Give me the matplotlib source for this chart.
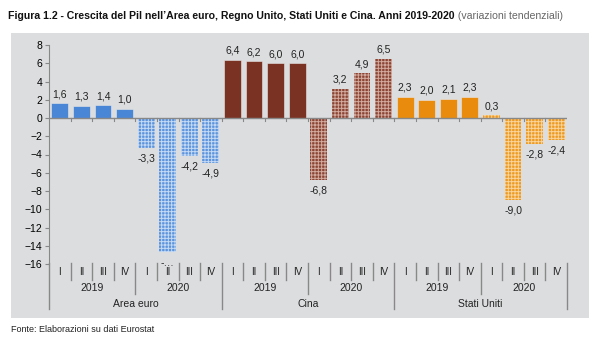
import matplotlib.pyplot as plt
import matplotlib.transforms as mtransforms
from matplotlib.patches import Rectangle
from matplotlib.lines import Line2D

plt.rcParams['font.family'] = ['Liberation Sans Narrow', 'Liberation Sans', 'DejaVu Sans']
plt.rcParams['hatch.linewidth'] = 0.7

# dati
paesi = ['Area euro', 'Cina', 'Stati Uniti']
anni = ['2019', '2020']
trimestri = ['I', 'II', 'III', 'IV']
area_euro = [1.6, 1.3, 1.4, 1.0, -3.3, -14.7, -4.2, -4.9]
cina = [6.4, 6.2, 6.0, 6.0, -6.8, 3.2, 4.9, 6.5]
stati_uniti = [2.3, 2.0, 2.1, 2.3, 0.3, -9.0, -2.8, -2.4]
etichette_euro = ['1,6', '1,3', '1,4', '1,0', '-3,3', '-…', '-4,2', '-4,9']
colori = ['#4a86d6', '#7a3323', '#e98c0e']
colori_2020 = ['#5b93dc', '#8a4434', '#ee9a22']
colori_trama = ['#c4d9f4', '#d2aa9e', '#f9d49c']

serie = [area_euro, cina, stati_uniti]

fig = plt.figure(figsize=(6, 3.42), dpi=100)
fig.patches.append(Rectangle((11 / 600, 1 - 318 / 342), 578 / 600, 285 / 342,
                             transform=fig.transFigure, facecolor='#dcdddf',
                             edgecolor='none', zorder=-5))
ax = fig.add_axes([49 / 600, 1 - 264 / 342, 518 / 600, 219 / 342])
ax.set_facecolor('none')
ax.set_zorder(2)

pos = 0
for i, valori in enumerate(serie):
    for j, v in enumerate(valori):
        if j < 4:
            ax.bar(pos + 0.5, v, width=0.78, color=colori[i], edgecolor='#e8e8e8',
                   linewidth=0.4, zorder=2)
        else:
            ax.bar(pos + 0.5, v, width=0.78, color=colori_2020[i], edgecolor=colori_trama[i],
                   linewidth=0, hatch='+++++', zorder=2)
        if i == 0:
            testo = etichette_euro[j]
        else:
            testo = f'{v:.1f}'.replace('.', ',')
        if v >= 0:
            ax.annotate(testo, (pos + 0.5, v), xytext=(0, 3), textcoords='offset points',
                        ha='center', va='bottom', fontsize=7.5, color='#222222')
        else:
            ax.annotate(testo, (pos + 0.5, v), xytext=(0, -4), textcoords='offset points',
                        ha='center', va='top', fontsize=7.5, color='#222222')
        pos += 1

ax.set_xlim(0, 24)
ax.set_ylim(-16, 8)
ax.set_yticks(range(-16, 9, 2))
ax.tick_params(axis='y', labelsize=7.5, length=3, color='#888888', pad=2)
ax.set_xticks([])
for s in ['top', 'right', 'bottom']:
    ax.spines[s].set_visible(False)
ax.spines['left'].set_color('#888888')
ax.axhline(0, color='#888888', linewidth=1, zorder=3)
for k in range(1, 24):
    ax.plot([k, k], [0, -0.35], color='#888888', linewidth=0.8, zorder=3)

# etichette asse x
tr = mtransforms.blended_transform_factory(ax.transData, fig.transFigure)
y_px = lambda p: 1 - p / 342
for k in range(24):
    ax.text(k + 0.5, y_px(272), trimestri[k % 4], transform=tr, ha='center',
            va='center', fontsize=7, color='#222222')
for k in range(6):
    ax.text(k * 4 + 2, y_px(288), anni[k % 2], transform=tr, ha='center',
            va='center', fontsize=7.5, color='#222222')
for k in range(3):
    ax.text(k * 8 + 4, y_px(304), paesi[k], transform=tr, ha='center',
            va='center', fontsize=7.5, color='#222222')
for k in range(25):
    if k % 8 == 0:
        basso = 309
    elif k % 4 == 0:
        basso = 294
    else:
        basso = 280
    ax.add_artist(Line2D([k, k], [y_px(263), y_px(basso)], transform=tr,
                         color='#888888', linewidth=1, clip_on=False))

titolo = fig.text(8 / 600, 1 - 16 / 342,
                  'Figura 1.2 - Crescita del Pil nell’Area euro, Regno Unito, Stati Uniti e Cina. Anni 2019-2020',
                  fontsize=7.6, fontweight='bold', va='center', ha='left', color='#111111')
r = fig.canvas.get_renderer()
bb = titolo.get_window_extent(renderer=r)
fig.text(bb.x1 / fig.bbox.width, 1 - 16 / 342, ' (variazioni tendenziali)', fontsize=7.6,
         va='center', ha='left', color='#666666')
fig.text(11 / 600, 1 - 330 / 342, 'Fonte: Elaborazioni su dati Eurostat',
         fontsize=6.5, va='center', ha='left', color='#222222')

fig.savefig('out.png', dpi=100)
